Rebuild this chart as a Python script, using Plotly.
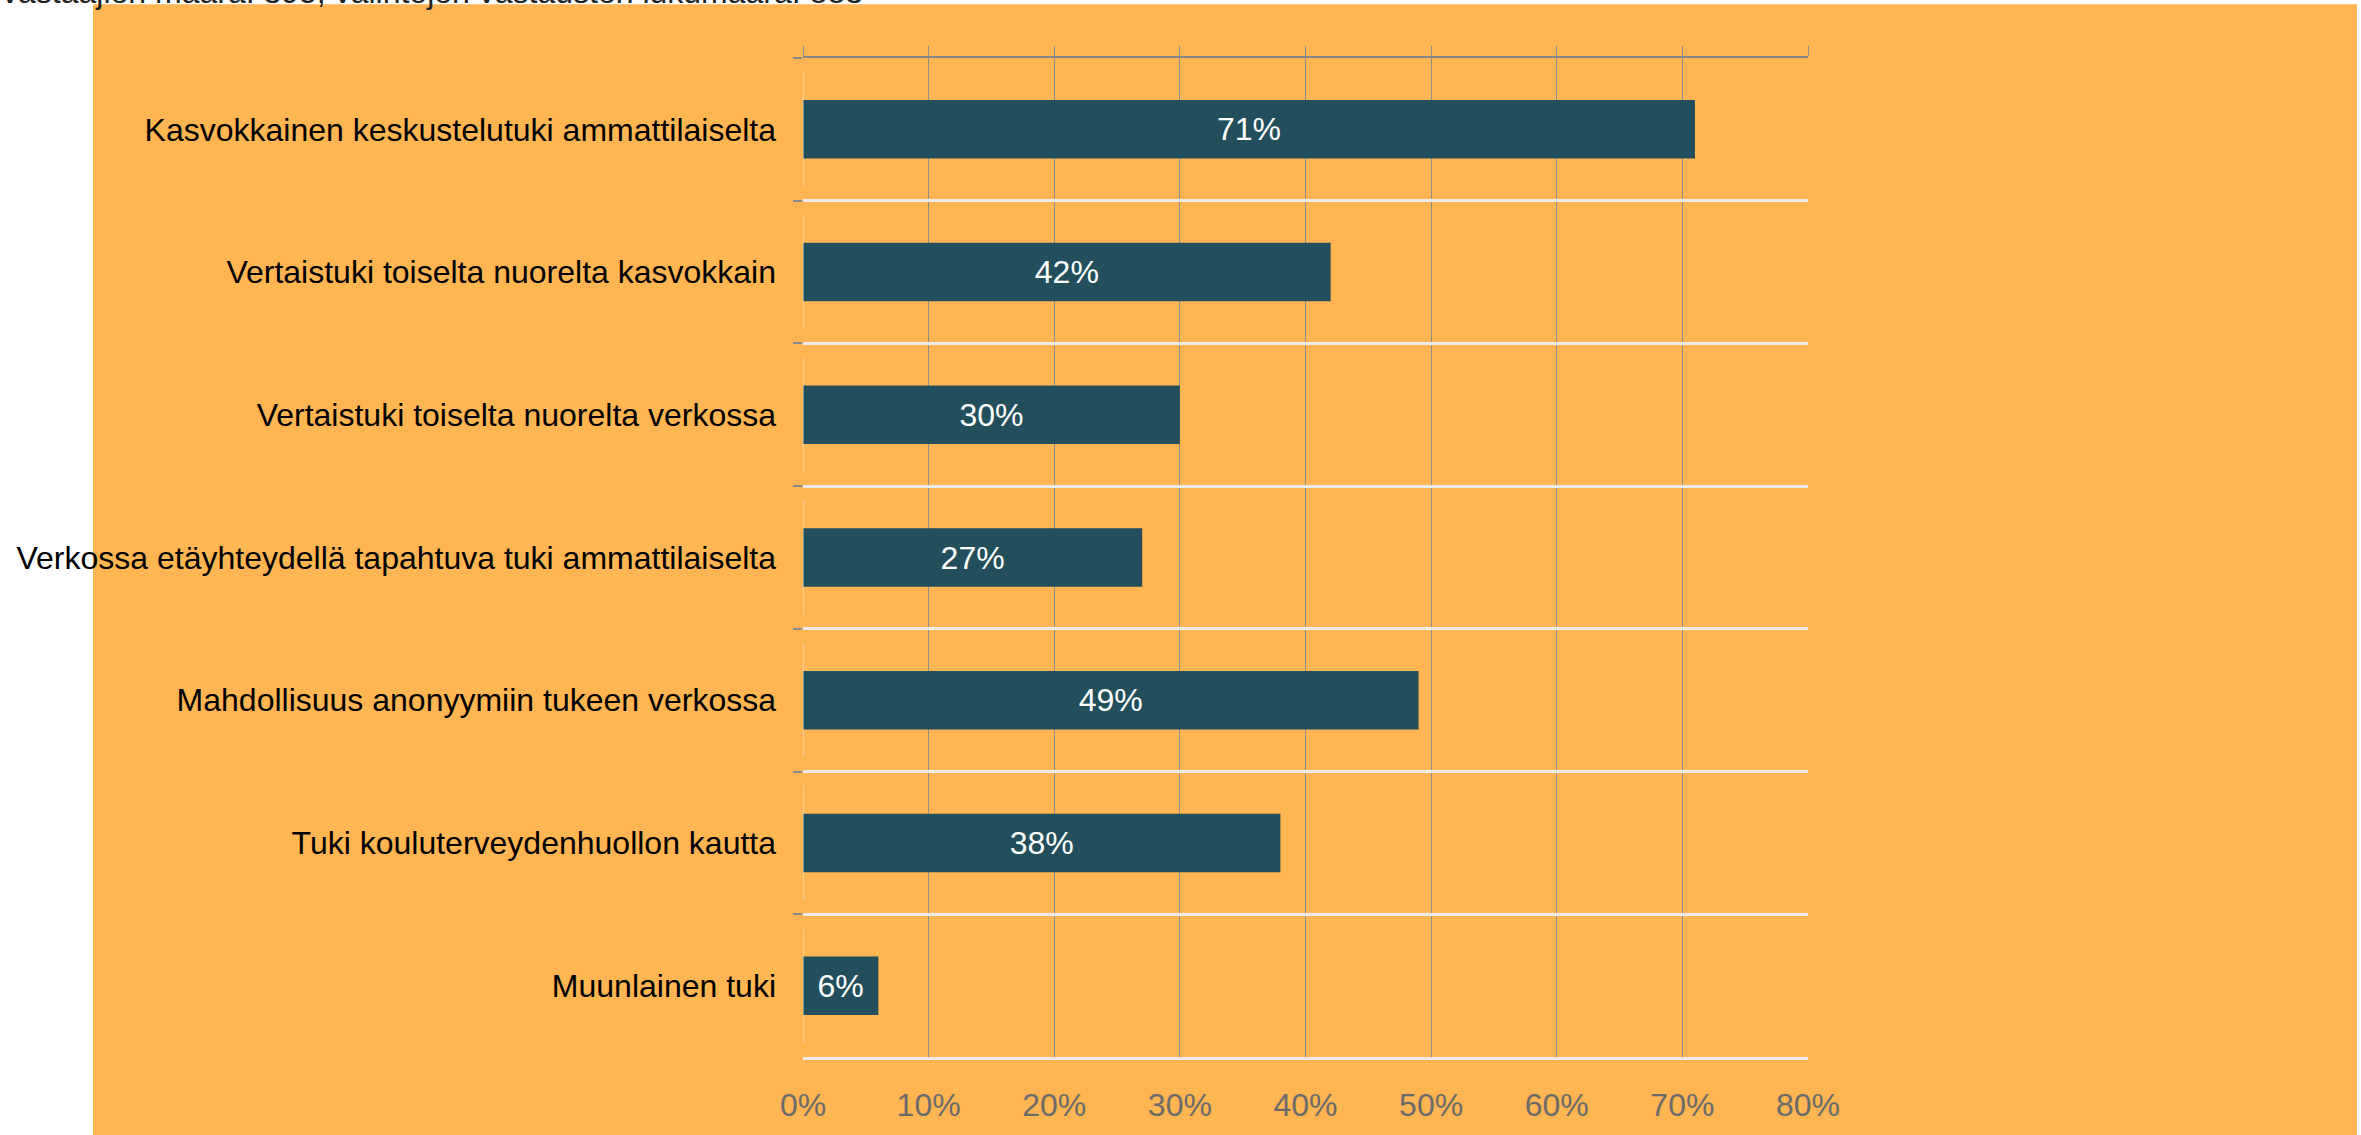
import plotly.graph_objects as go

categories = [
    "Kasvokkainen keskustelutuki ammattilaiselta",
    "Vertaistuki toiselta nuorelta kasvokkain",
    "Vertaistuki toiselta nuorelta verkossa",
    "Verkossa etäyhteydellä tapahtuva tuki ammattilaiselta",
    "Mahdollisuus anonyymiin tukeen verkossa",
    "Tuki kouluterveydenhuollon kautta",
    "Muunlainen tuki",
]
values = [71, 42, 30, 27, 49, 38, 6]
x_ticks = [0, 10, 20, 30, 40, 50, 60, 70, 80]
header_text = "vastaajien määrä: 395, valintojen vastausten lukumäärä: 883"

W, H = 2361, 1135
L, R, T, B = 803, 2361 - 1808, 58, 1135 - 1062
pw, ph = W - L - R, H - T - B

FONT = "Liberation Sans, Arial, sans-serif"
ORANGE = "#FFB552"
BAR = "#234E5C"
GRID = "#8C8C8C"
FS = 32

fig = go.Figure()
fig.add_trace(go.Bar(
    y=categories, x=values, orientation="h",
    marker=dict(color=BAR, line=dict(width=0)),
    width=0.41,
    text=[f"{v}%" for v in values],
    textposition="inside", insidetextanchor="middle",
    textfont=dict(color="white", size=FS, family=FONT),
    constraintext="none",
    xaxis="x", yaxis="y",
    hoverinfo="skip",
))
# invisible trace for the bottom tick-label axis
fig.add_trace(go.Bar(y=categories, x=[0]*len(categories), orientation="h",
                     xaxis="x2", yaxis="y", showlegend=False,
                     marker=dict(color="rgba(0,0,0,0)"), hoverinfo="skip"))

px2x = lambda px: (px - L) / pw
px2y = lambda py: 1 - (py - T) / ph

fig.update_layout(
    width=W, height=H,
    margin=dict(l=L, r=R, t=T, b=B, pad=0),
    paper_bgcolor="white",
    plot_bgcolor="rgba(0,0,0,0)",
    showlegend=False,
    barmode="overlay",
    font=dict(family=FONT, size=FS, color="black"),
    xaxis=dict(
        range=[0, 80], side="top", tickvals=x_ticks, showticklabels=False,
        showgrid=True, gridcolor=GRID, gridwidth=1.3,
        showline=True, linecolor="#868686", linewidth=2,
        ticks="outside", ticklen=10, tickcolor=GRID, tickwidth=1.3,
        zeroline=False, fixedrange=True,
    ),
    xaxis2=dict(
        range=[0, 80], overlaying="x", side="bottom", tickvals=x_ticks,
        ticktext=[f"{t}%" for t in x_ticks],
        showgrid=False, showline=True, linecolor="#EAEAEA", linewidth=2.5,
        ticks="", zeroline=False,
        tickfont=dict(size=FS, color="#6B6B6B", family=FONT),
        ticklabelstandoff=18,
    ),
    yaxis=dict(
        type="category", categoryorder="array", categoryarray=categories,
        autorange="reversed", tickson="boundaries",
        showgrid=True, gridcolor="#EAEAEA", gridwidth=2.5,
        ticks="outside", ticklen=9, tickcolor="#8C8C8C", tickwidth=1.5,
        showline=False, zeroline=False,
        tickfont=dict(size=FS, color="black", family=FONT),
        ticklabelstandoff=26,
    ),
    shapes=[dict(
        type="rect", xref="paper", yref="paper", layer="below",
        x0=px2x(93), x1=px2x(2357), y0=px2y(1160), y1=px2y(4),
        fillcolor=ORANGE, line=dict(width=0),
    )],
    annotations=[dict(
        text=header_text, xref="paper", yref="paper",
        x=px2x(0), y=px2y(12), xanchor="left", yanchor="bottom",
        showarrow=False, font=dict(size=FS, color="#222222", family=FONT),
    )],
)

fig.write_html("out.html", config={"displayModeBar": False},
               post_script="document.body.style.margin='0';")
